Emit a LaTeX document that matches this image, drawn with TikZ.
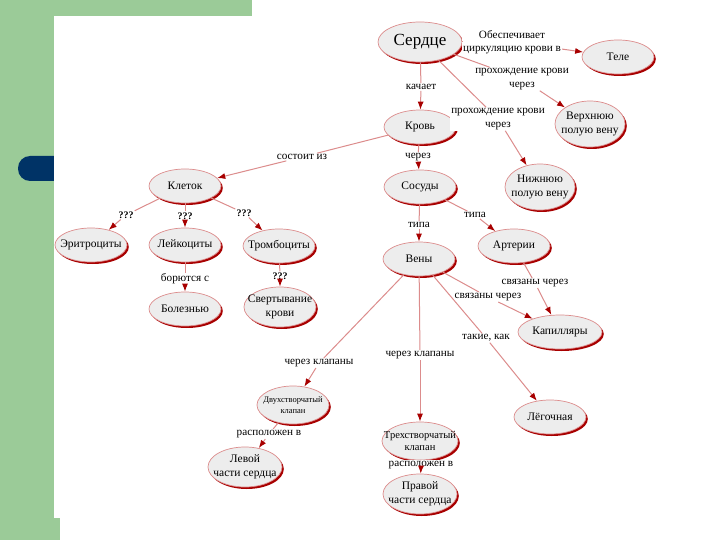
\documentclass[tikz,border=0pt]{standalone}
\usepackage{fontspec}
\setmainfont{Liberation Serif}
\usetikzlibrary{shapes.geometric, arrows.meta, shadows}
\definecolor{cmGreen}{HTML}{9BCB98}
\definecolor{cmNavy}{HTML}{003366}
\definecolor{cmLine}{HTML}{DC8C8C}
\definecolor{cmDark}{HTML}{A80000}
\definecolor{cmFill}{HTML}{EDEDED}

\begin{document}
\begin{tikzpicture}[x=1pt, y=-1pt, font=\fontsize{11.2}{13.5}\selectfont,
  concept/.style={ellipse, draw=cmLine, line width=0.7pt, fill=cmFill,
    minimum width=72pt, minimum height=34pt, inner xsep=-10pt, inner ysep=-2pt,
    align=center, font=\fontsize{11.5}{13.5}\selectfont,
    drop shadow={fill=cmDark, shadow xshift=1.8pt, shadow yshift=-2pt, opacity=1}},
  link/.style={fill=white, inner sep=1pt, align=center},
  wire/.style={draw=cmLine, line width=1pt},
  arrow/.style={wire, -{Latex[color=cmDark, length=8pt, width=6pt]}}]
  \useasboundingbox (0,0) rectangle (720,540);
  \fill[white] (0,0) rectangle (720,540);
  \fill[cmGreen] (0,0) rectangle (252,16);
  \fill[cmGreen] (0,0) rectangle (54,540);
  \fill[cmNavy, rounded corners=12pt] (18,156) rectangle (70,181);
  \fill[white] (54,16) rectangle (720,540);
  \fill[cmGreen] (54,518) rectangle (60,540);

  \node[concept, font=\fontsize{17}{19}\selectfont, minimum width=84pt, minimum height=40pt] (heart) at (420,42) {Сердце};
  \node[concept] (body) at (618,57) {Теле};
  \node[concept, minimum width=70pt, minimum height=46pt] (upper) at (590,124) {Верхнюю\\полую вену};
  \node[concept] (blood) at (420,127) {Кровь};
  \node[concept, minimum width=70pt, minimum height=46pt] (lower) at (540,187) {Нижнюю\\полую вену};
  \node[concept] (cells) at (185,186) {Клеток};
  \node[concept] (vessels) at (420,187) {Сосуды};
  \node[concept] (eryth) at (91,245) {Эритроциты};
  \node[concept] (leuk) at (185,245) {Лейкоциты};
  \node[concept] (thromb) at (279,246) {Тромбоциты};
  \node[concept] (veins) at (419,259) {Вены};
  \node[concept] (arter) at (514,246) {Артерии};
  \node[concept] (disease) at (185,309) {Болезнью};
  \node[concept, minimum height=40pt] (clot) at (280,307) {Свертывание\\крови};
  \node[concept, minimum width=84pt] (capil) at (560,332) {Капилляры};
  \node[concept, minimum height=38pt, font=\fontsize{8.5}{11}\selectfont] (bicusp) at (293,405) {Двухстворчатый\\клапан};
  \node[concept] (pulm) at (550,417) {Лёгочная};
  \node[concept, minimum width=76pt, minimum height=38pt, font=\fontsize{10.5}{12}\selectfont] (tricusp) at (420,441) {Трехстворчатый\\клапан};
  \node[concept, minimum width=74pt, minimum height=40pt] (leftpart) at (245,467) {Левой\\части сердца};
  \node[concept, minimum width=74pt, minimum height=40pt] (rightpart) at (420,494) {Правой\\части сердца};

  \node[link] (l1) at (512,42) {Обеспечивает\\циркуляцию крови в};
  \node[link] (l2) at (522,79) {прохождение крови\\через};
  \node[link] (l3) at (421,87) {качает};
  \node[link] (l4) at (498,119) {прохождение крови\\через};
  \node[link] (l5) at (302,157) {состоит из};
  \node[link] (l6) at (418,157) {через};
  \node[link, font=\bfseries] (l7) at (126,215) {???};
  \node[link, font=\bfseries] (l8) at (185,216) {???};
  \node[link, font=\bfseries] (l9) at (244,213) {???};
  \node[link] (l10) at (185,279) {борются с};
  \node[link, font=\bfseries] (l11) at (280,276) {???};
  \node[link] (l12) at (419,225) {типа};
  \node[link] (l13) at (475,215) {типа};
  \node[link] (l14) at (535,283) {связаны через};
  \node[link] (l15) at (488,297) {связаны через};
  \node[link] (l16) at (486,338) {такие, как};
  \node[link] (l17) at (319,363) {через клапаны};
  \node[link] (l18) at (420,355) {через клапаны};
  \node[link] (l19) at (269,434) {расположен в};
  \node[link] (l20) at (421,465) {расположен в};

  \draw[wire] (heart) -- (l1);   \draw[arrow] (l1) -- (body);
  \draw[wire] (heart) -- (l2);   \draw[arrow] (l2) -- (upper);
  \draw[wire] (heart) -- (l3);   \draw[arrow] (l3) -- (blood);
  \draw[wire] (heart) -- (l4);   \draw[arrow] (l4) -- (lower);
  \draw[wire] (blood) -- (l5);   \draw[arrow] (l5) -- (cells);
  \draw[wire] (blood) -- (l6);   \draw[arrow] (l6) -- (vessels);
  \draw[wire] (cells) -- (l7);   \draw[arrow] (l7) -- (eryth);
  \draw[wire] (cells) -- (l8);   \draw[arrow] (l8) -- (leuk);
  \draw[wire] (cells) -- (l9);   \draw[arrow] (l9) -- (thromb);
  \draw[wire] (leuk) -- (l10);   \draw[arrow] (l10) -- (disease);
  \draw[wire] (thromb) -- (l11); \draw[arrow] (l11) -- (clot);
  \draw[wire] (vessels) -- (l12); \draw[arrow] (l12) -- (veins);
  \draw[wire] (vessels) -- (l13); \draw[arrow] (l13) -- (arter);
  \draw[wire] (arter) -- (l14);  \draw[arrow] (l14) -- (capil);
  \draw[wire] (veins) -- (l15);  \draw[arrow] (l15) -- (capil);
  \draw[wire] (veins) -- (l16);  \draw[arrow] (l16) -- (pulm);
  \draw[wire] (veins) -- (l17);  \draw[arrow] (l17) -- (bicusp);
  \draw[wire] (veins) -- (l18);  \draw[arrow] (l18) -- (tricusp);
  \draw[wire] (bicusp) -- (l19); \draw[arrow] (l19) -- (leftpart);
  \draw[wire] (tricusp) -- (l20); \draw[arrow] (l20) -- (rightpart);
\end{tikzpicture}
\end{document}
